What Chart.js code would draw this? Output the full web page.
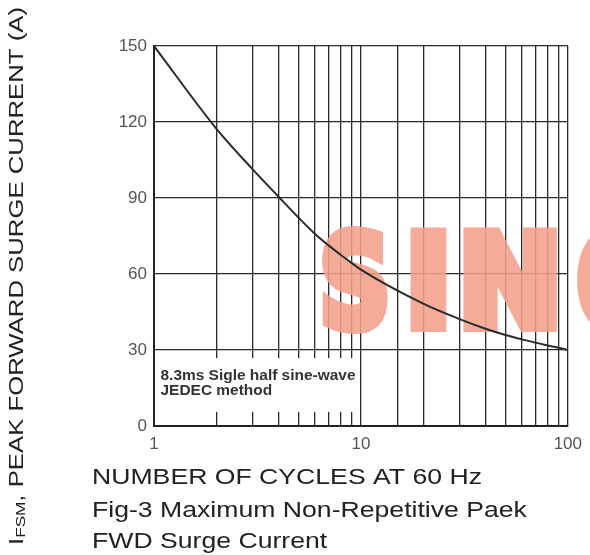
<!DOCTYPE html>
<html>
<head>
<meta charset="utf-8">
<script src="https://cdn.jsdelivr.net/npm/chart.js@4.4.1/dist/chart.umd.min.js"></script>
<style>
  html, body { margin: 0; padding: 0; background: #fff; }
  canvas { display: block; }
</style>
</head>
<body>
<canvas id="c" width="590" height="555"></canvas>
<script>
// ---- data ----
const cycles  = [1, 2, 3, 4, 5, 6, 7, 8, 9, 10, 20, 30, 40, 50, 60, 70, 80, 90, 100];
const current = [150, 117.4, 101.3, 90.5, 82.2, 75.8, 71.2, 67.5, 64.4, 61.7, 48.3, 42.2, 38.4, 35.9, 34.2, 32.9, 31.8, 30.9, 30];
const yTicks = [0, 30, 60, 90, 120, 150];
const xTickLabels = [1, 10, 100];
const noteLines = ['8.3ms Sigle half sine-wave', 'JEDEC method'];
const xTitleLines = ['NUMBER OF CYCLES AT 60 Hz', 'Fig-3 Maximum Non-Repetitive Paek', 'FWD Surge Current'];
const yTitleMain = 'I', yTitleSub = 'FSM', yTitleRest = ', PEAK FORWARD SURGE CURRENT (A)';
const watermark = ['S', 'I', 'N', 'O'];

const FONT = '"Liberation Sans", Arial, Helvetica, sans-serif';
const GRID = '#2a2a2a';

function drawWatermark(ctx, W, H) {
  const off = document.createElement('canvas');
  off.width = W; off.height = H;
  const o = off.getContext('2d');
  const col = 'rgb(243,160,138)';
  o.fillStyle = col; o.strokeStyle = col;
  const lw = 12;
  o.lineWidth = lw; o.lineJoin = 'miter';
  o.font = 'bold 126px "DejaVu Sans", sans-serif';
  o.textBaseline = 'alphabetic';
  const lefts = [322, 410, 463, 577];
  const widths = [66, 37, 94, 80];
  watermark.forEach((ch, i) => {
    const m = o.measureText(ch);
    const ink = m.actualBoundingBoxLeft + m.actualBoundingBoxRight;
    const sx = widths[i] / (ink + lw);
    o.save();
    o.translate(lefts[i], 332 - lw / 2);
    o.scale(sx, 1);
    o.fillText(ch, m.actualBoundingBoxLeft + lw / 2, 0);
    o.strokeText(ch, m.actualBoundingBoxLeft + lw / 2, 0);
    o.restore();
  });
  ctx.save();
  ctx.globalAlpha = 0.88;
  ctx.drawImage(off, 0, 0);
  ctx.restore();
}

const decorations = {
  id: 'decorations',
  beforeDatasetsDraw(chart) {
    const { ctx, chartArea: a, scales: { x, y } } = chart;
    drawWatermark(ctx, chart.width, chart.height);
    ctx.save();
    // white note box covering the grid
    const x0 = a.left + 1.5, x1 = x.getPixelForValue(9.6);
    const y0 = y.getPixelForValue(26.8), y1 = y.getPixelForValue(5.5);
    ctx.fillStyle = '#fff';
    ctx.fillRect(x0, y0, x1 - x0, y1 - y0);
    ctx.fillStyle = '#333';
    ctx.font = 'bold 14px ' + FONT;
    ctx.textBaseline = 'alphabetic';
    const nsx = 195 / ctx.measureText(noteLines[0]).width;
    ctx.translate(x0 + 5, y0);
    ctx.scale(nsx, 1);
    ctx.fillText(noteLines[0], 0, 22);
    ctx.fillText(noteLines[1], 0, 37);
    ctx.restore();
  },
  afterDraw(chart) {
    const { ctx } = chart;
    ctx.save();
    ctx.fillStyle = '#222';
    ctx.textBaseline = 'alphabetic';
    // x titles
    ctx.font = '22.5px ' + FONT;
    const tsx = 390 / ctx.measureText(xTitleLines[0]).width;
    const base = [484, 517, 548];
    xTitleLines.forEach((t, i) => {
      ctx.save();
      ctx.translate(92, base[i]);
      ctx.scale(tsx, 1);
      ctx.fillText(t, 0, 0);
      ctx.restore();
    });
    // y title (rotated, with subscript)
    const mainFont = '19.5px ' + FONT, subFont = '13px ' + FONT;
    ctx.font = mainFont; const wI = ctx.measureText(yTitleMain).width;
    const wR = ctx.measureText(yTitleRest).width;
    ctx.font = subFont; const wS = ctx.measureText(yTitleSub).width;
    const total = wI + wS + wR;
    ctx.translate(22.5, 545);
    ctx.rotate(-Math.PI / 2);
    ctx.scale(538 / total, 1);
    ctx.font = mainFont; ctx.fillText(yTitleMain, 0, 0);
    ctx.font = subFont; ctx.fillText(yTitleSub, wI, 2);
    ctx.font = mainFont; ctx.fillText(yTitleRest, wI + wS, 0);
    ctx.restore();
  }
};

new Chart(document.getElementById('c'), {
  type: 'line',
  data: {
    datasets: [{
      data: cycles.map((v, i) => ({ x: v, y: current[i] })),
      borderColor: '#2b2b2b',
      borderWidth: 2,
      pointRadius: 0,
      fill: false,
      cubicInterpolationMode: 'monotone'
    }]
  },
  options: {
    responsive: false,
    animation: false,
    events: [],
    layout: { padding: { left: 0, right: 18, top: 46, bottom: 0 } },
    plugins: { legend: { display: false }, tooltip: { enabled: false } },
    scales: {
      x: {
        type: 'logarithmic',
        min: 1, max: 100,
        grid: { color: GRID, lineWidth: 1.3, drawTicks: false },
        border: { color: '#222', width: 2 },
        ticks: {
          autoSkip: false, maxRotation: 0, padding: 8,
          color: '#555', font: { size: 17, family: FONT },
          callback: (v) => xTickLabels.includes(Number(v)) ? String(v) : ''
        },
        afterFit: (s) => { s.height = 129; }
      },
      y: {
        type: 'linear',
        min: 0, max: 150,
        afterBuildTicks: (s) => { s.ticks = yTicks.map(v => ({ value: v })); },
        grid: { color: GRID, lineWidth: 1.3, drawTicks: false },
        border: { color: '#222', width: 2 },
        ticks: { padding: 7, color: '#555', font: { size: 17, family: FONT } },
        afterFit: (s) => { s.width = 154; }
      }
    }
  },
  plugins: [decorations]
});
</script>
</body>
</html>
